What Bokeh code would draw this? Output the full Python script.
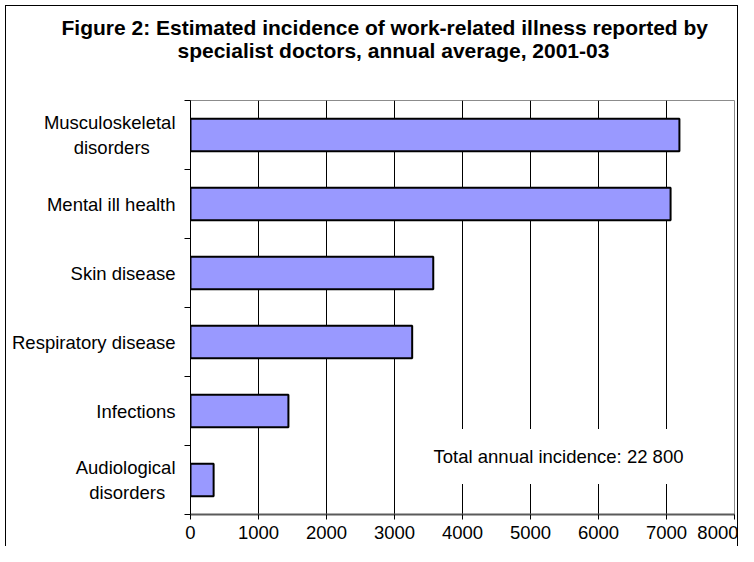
from bokeh.plotting import figure
from bokeh.models import Range1d, FixedTicker, Label, ColumnDataSource, NumeralTickFormatter, Title
from bokeh.embed import file_html
from bokeh.resources import INLINE

# ---- data ----
categories = ["Musculoskeletal\ndisorders", "Mental ill health", "Skin disease",
              "Respiratory disease", "Infections", "Audiological\ndisorders"]
values = [7190, 7060, 3570, 3260, 1440, 340]
x_ticks = [0, 1000, 2000, 3000, 4000, 5000, 6000, 7000, 8000]
title_line1 = "Figure 2: Estimated incidence of work-related illness reported by"
title_line2 = "specialist doctors, annual average, 2001-03"
total_text = "Total annual incidence: 22 800"

FONT = "Liberation Sans"

# approximate Arial advance widths (1/1000 em) used to centre the lines of
# two-line category labels inside a right-aligned block
_W = dict(zip("abcdefghijklmnopqrstuvwxyz",
              [556, 556, 500, 556, 556, 278, 556, 556, 222, 222, 500, 222, 833,
               556, 556, 556, 556, 333, 500, 278, 556, 500, 722, 500, 500, 500]))
_W.update({"M": 833, "A": 667, " ": 278})


def centre_lines(label):
    lines = label.split("\n")
    if len(lines) == 1:
        return label
    widths = [sum(_W.get(ch, 556) for ch in ln) for ln in lines]
    wmax = max(widths)
    return "\n".join(ln + " " * int(round((wmax - w) / 2 / _W[" "]))
                     for ln, w in zip(lines, widths))


n = len(categories)
ypos = [n - 1 - i for i in range(n)]
src = ColumnDataSource(dict(y=ypos, v=values, name=categories))

p = figure(width=738, height=546,
           x_range=Range1d(x_ticks[0], x_ticks[-1]),
           y_range=Range1d(-0.5, n - 0.5),
           output_backend="svg", toolbar_location=None,
           min_border_left=190, min_border_right=4,
           min_border_top=100, min_border_bottom=32)
p.title_location = None
p.styles = {"box-shadow": "inset 5px 5px 0 0 white, inset 6px 6px 0 0 black, "
                          "inset -1px 0 0 0 black"}
p.background_fill_color = "white"
p.border_fill_color = None
p.outline_line_color = "#8c8c8c"
p.outline_line_width = 1

# title stack (first added = closest to frame)
p.add_layout(Title(text=" ", text_font_size="10px", standoff=27.3), "above")
p.add_layout(Title(text=title_line2, align="left", offset=-13, standoff=-2.5,
                   text_font=FONT, text_font_size="21px", text_font_style="bold",
                   text_color="black"), "above")
p.add_layout(Title(text=title_line1, align="left", offset=-129, standoff=-2.5,
                   text_font=FONT, text_font_size="21px", text_font_style="bold",
                   text_color="black"), "above")
p.add_layout(Title(text=" ", text_font_size="1px", standoff=10.4), "above")

# grid
p.ygrid.visible = False
p.xgrid.ticker = FixedTicker(ticks=x_ticks[1:-1])
p.xgrid.grid_line_color = "black"
p.xgrid.grid_line_width = 1

p.hbar(y="y", left=0, right="v", height=0.47, source=src,
       fill_color="#9999FF", line_color="black", line_width=2)

# x axis
xa = p.xaxis[0]
xa.ticker = FixedTicker(ticks=x_ticks)
xa.formatter = NumeralTickFormatter(format="0")
xa.axis_line_color = "#5a5a5a"
xa.axis_line_width = 2
xa.major_tick_line_color = "black"
xa.major_tick_out = 5
xa.major_tick_in = 0
xa.minor_tick_line_color = None
xa.major_label_standoff = 6
xa.major_label_text_font = FONT
xa.major_label_text_font_size = "18.5px"
xa.major_label_text_color = "black"

# y axis
ya = p.yaxis[0]
ya.ticker = FixedTicker(ticks=ypos, minor_ticks=[k - 0.5 for k in range(n + 1)])
ya.major_label_overrides = {y: centre_lines(c) for y, c in zip(ypos, categories)}
ya.axis_line_color = "black"
ya.axis_line_width = 1
ya.major_tick_line_color = None
ya.major_tick_out = 0
ya.major_tick_in = 0
ya.minor_tick_line_color = "black"
ya.minor_tick_out = 6
ya.minor_tick_in = 0
ya.major_label_standoff = 9
ya.major_label_text_font = FONT
ya.major_label_text_font_size = "18.5px"
ya.major_label_text_color = "black"

# total annotation
p.add_layout(Label(x=5412, y=0.34, text=total_text, text_align="center",
                   text_baseline="middle", text_font=FONT, text_font_size="18.5px",
                   text_color="black", background_fill_color="white", padding=17))

open("out.html", "w").write(file_html(p, INLINE))
